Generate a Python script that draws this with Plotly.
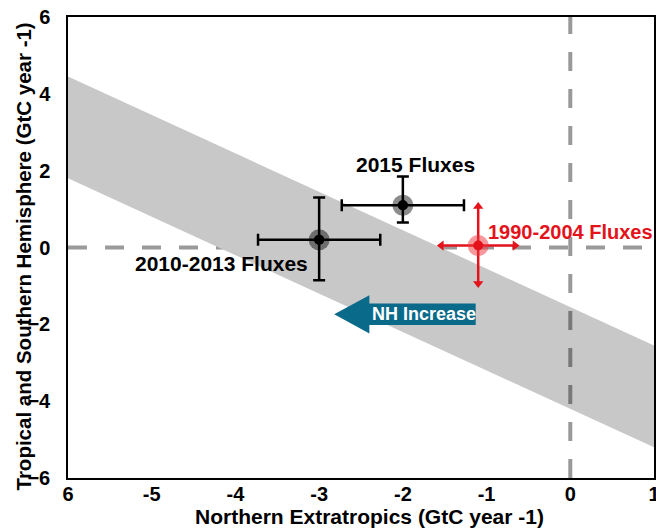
import plotly.graph_objects as go

# Constraint band on the total flux (NE + TSH), given by its edges at the axis limits
band_x = [-6, 1]
band_upper = [4.45, -2.55]
band_lower = [1.8, -5.2]

# Inversion estimates with uncertainty
black_labels = ["2010-2013 Fluxes", "2015 Fluxes"]
black_x = [-3.0, -2.0]
black_y = [0.2, 1.1]
black_xerr = [0.73, 0.73]
black_yerr_plus = [1.1, 0.75]
black_yerr_minus = [1.05, 0.45]

red_label = "1990-2004 Fluxes"
red_x = -1.1
red_y = 0.05
red_xerr = 0.44
red_yerr_plus = 1.02
red_yerr_minus = 0.99

x_ticks = [-6, -5, -4, -3, -2, -1, 0, 1]
x_ticktext = ["6", "-5", "-4", "-3", "-2", "-1", "0", "1"]
y_ticks = [-6, -4, -2, 0, 2, 4, 6]

# "NH Increase" block arrow (data units)
nh_tip_x, nh_head_x, nh_tail_x = -2.82, -2.40, -1.13
nh_y, nh_body_half, nh_head_half = -1.74, 0.28, 0.50

FONT = "Liberation Sans, Arial, sans-serif"
RED = "#e3121b"
TEAL = "#0a6a8a"


def ref_line(x, y, color):
    return go.Scatter(
        x=x, y=y, mode="lines",
        line=dict(color=color, width=4, dash="19px,18px"),
        hoverinfo="skip", showlegend=False,
    )


fig = go.Figure()

# horizontal zero line sits behind the band
fig.add_trace(ref_line([-6, 1], [0, 0], "#9a9a9a"))

# shaded band
fig.add_trace(go.Scatter(
    x=band_x + band_x[::-1],
    y=band_upper + band_lower[::-1],
    fill="toself", fillcolor="#c8c8c8", line=dict(width=0),
    mode="lines", hoverinfo="skip", showlegend=False,
))

# vertical zero line drawn over the band
fig.add_trace(ref_line([0, 0], [-6, 6], "rgba(0,0,0,0.4)"))

# NH increase arrow
arrow_x = [nh_tip_x, nh_head_x, nh_head_x, nh_tail_x, nh_tail_x, nh_head_x, nh_head_x, nh_tip_x]
arrow_y = [nh_y, nh_y + nh_head_half, nh_y + nh_body_half, nh_y + nh_body_half,
           nh_y - nh_body_half, nh_y - nh_body_half, nh_y - nh_head_half, nh_y]
fig.add_trace(go.Scatter(
    x=arrow_x, y=arrow_y, fill="toself", fillcolor=TEAL,
    line=dict(width=0), mode="lines", hoverinfo="skip", showlegend=False,
))
fig.add_annotation(
    x=(nh_head_x + nh_tail_x) / 2 + 0.02, y=nh_y, text="<b>NH Increase</b>",
    showarrow=False, font=dict(family=FONT, size=18, color="white"),
)

# black estimates with error bars
fig.add_trace(go.Scatter(
    x=black_x, y=black_y, mode="markers",
    marker=dict(size=10, color="black"),
    error_x=dict(type="data", array=black_xerr, color="black", thickness=2.5, width=6),
    error_y=dict(type="data", array=black_yerr_plus, arrayminus=black_yerr_minus,
                 color="black", thickness=2.5, width=6),
    hoverinfo="skip", showlegend=False,
))
fig.add_trace(go.Scatter(
    x=black_x, y=black_y, mode="markers",
    marker=dict(size=21, color="rgba(0,0,0,0.45)"),
    hoverinfo="skip", showlegend=False,
))
fig.add_trace(go.Scatter(
    x=black_x, y=black_y, mode="markers",
    marker=dict(size=10, color="black"),
    hoverinfo="skip", showlegend=False,
))

# red estimate: cross with arrowheads at each end
fig.add_trace(go.Scatter(
    x=[red_x], y=[red_y], mode="markers",
    marker=dict(size=1, color=RED),
    error_x=dict(type="data", array=[red_xerr], color=RED, thickness=2.5, width=0),
    error_y=dict(type="data", array=[red_yerr_plus], arrayminus=[red_yerr_minus],
                 color=RED, thickness=2.5, width=0),
    hoverinfo="skip", showlegend=False,
))
fig.add_trace(go.Scatter(
    x=[red_x - red_xerr, red_x + red_xerr, red_x, red_x],
    y=[red_y, red_y, red_y + red_yerr_plus, red_y - red_yerr_minus],
    mode="markers",
    marker=dict(size=9, color=RED,
                symbol=["triangle-left", "triangle-right", "triangle-up", "triangle-down"]),
    hoverinfo="skip", showlegend=False,
))
fig.add_trace(go.Scatter(
    x=[red_x], y=[red_y], mode="markers",
    marker=dict(size=21, color="rgba(240,50,60,0.5)"),
    hoverinfo="skip", showlegend=False,
))
fig.add_trace(go.Scatter(
    x=[red_x], y=[red_y], mode="markers",
    marker=dict(size=10, color=RED),
    hoverinfo="skip", showlegend=False,
))

# labels
fig.add_annotation(x=-4.17, y=-0.42, text="<b>" + black_labels[0] + "</b>",
                   showarrow=False, font=dict(family=FONT, size=21, color="black"))
fig.add_annotation(x=-1.85, y=2.15, text="<b>" + black_labels[1] + "</b>",
                   showarrow=False, font=dict(family=FONT, size=21, color="black"))
fig.add_annotation(x=0.0, y=0.41, text="<b>" + red_label + "</b>",
                   showarrow=False, font=dict(family=FONT, size=20, color=RED))

# axis titles placed explicitly so they can sit close to the tick labels
fig.add_annotation(
    xref="paper", yref="paper", x=0, y=0.5, xshift=-45, yshift=-9,
    text="<b>Tropical and Southern Hemisphere (GtC year -1)</b>",
    textangle=-90, showarrow=False, xanchor="center", yanchor="middle",
    font=dict(family=FONT, size=20.5, color="black"),
)
fig.add_annotation(
    xref="paper", yref="paper", x=0.5, y=0, xshift=8, yshift=-38,
    text="<b>Northern Extratropics (GtC year -1)</b>",
    showarrow=False, xanchor="center", yanchor="middle",
    font=dict(family=FONT, size=21, color="black"),
)

axis_common = dict(
    showline=True, linecolor="black", linewidth=1.5, mirror=True,
    showgrid=False, zeroline=False, automargin=False,
    ticklabeloverflow="allow",
    tickfont=dict(family=FONT, size=20, color="black", weight="bold"),
)

fig.update_layout(
    width=656, height=528,
    margin=dict(l=68, r=2, t=17, b=50),
    paper_bgcolor="white", plot_bgcolor="white",
    xaxis=dict(range=[-6, 1], tickvals=x_ticks, ticktext=x_ticktext, ticks="",
               ticklabelstandoff=-3, **axis_common),
    yaxis=dict(range=[-6, 6], tickvals=y_ticks, ticks="outside",
               tickcolor="rgba(0,0,0,0)", ticklen=12, **axis_common),
)

fig.write_html("out.html")
